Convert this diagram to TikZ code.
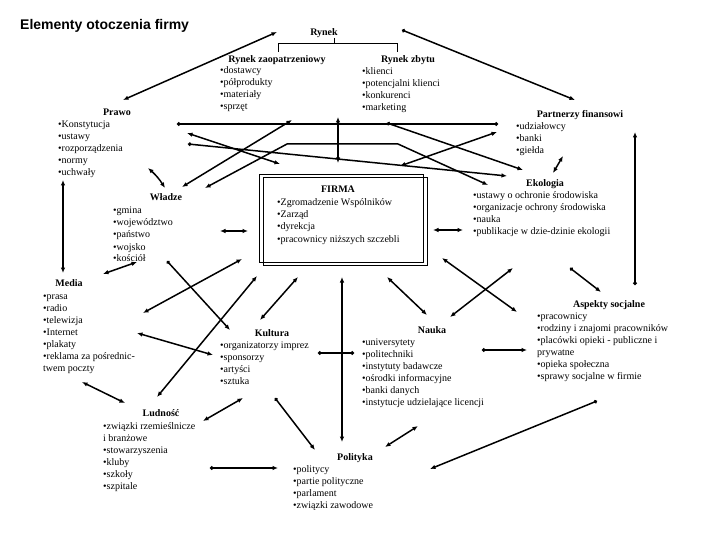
\documentclass[tikz,border=0pt]{standalone}
\usepackage{fontspec}
\setmainfont{Liberation Serif}
\newfontfamily\titlefont{Liberation Sans}
\usetikzlibrary{arrows.meta}
\newcommand{\mylist}[1]{\begin{tabular}[t]{@{}l@{}}#1\end{tabular}}
\tikzset{
  conn/.style={line width=1.5pt},
  aa/.style={conn,{Latex[length=5.5pt,width=4.5pt]}-{Latex[length=5.5pt,width=4.5pt]}},
  da/.style={conn,{Circle[length=3.5pt]}-{Latex[length=5.5pt,width=4.5pt]}},
  dd/.style={conn,{Circle[length=3.5pt]}-{Circle[length=3.5pt]}},
  hd/.style={font=\bfseries\fontsize{10}{12}\selectfont,inner sep=0pt,anchor=base},
  lst/.style={font=\fontsize{10}{12}\selectfont,inner sep=0pt,anchor=base west},
  frame/.style={draw,line width=0.8pt,inner sep=0pt,anchor=north west,minimum width=164pt,minimum height=88pt},
}
\begin{document}
\begin{tikzpicture}[x=1pt,y=-1pt]
\useasboundingbox[fill=white] (0,0) rectangle (720,540);

% title
\node[anchor=base west,inner sep=0pt,font=\titlefont\bfseries\fontsize{14}{16}\selectfont] (title) at (20,30) {Elementy otoczenia firmy};

% Rynek
\node[hd] (rynek) at (324,36) {Rynek};
\coordinate (tk1) at (334,38); \coordinate (tk2) at (334,43);
\coordinate (br1) at (278,52); \coordinate (br2) at (278,43);
\coordinate (br3) at (397,43); \coordinate (br4) at (397,52);
\draw[line width=0.8pt] (tk1) -- (tk2);
\draw[line width=0.8pt] (br1) -- (br2) -- (br3) -- (br4);

\node[hd] (rzH) at (277,63) {Rynek zaopatrzeniowy};
\node[lst] (rzL) at (220,74) {\mylist{•dostawcy\\•półprodukty\\•materiały\\•sprzęt}};

\node[hd] (rbH) at (408,63) {Rynek zbytu};
\node[lst] (rbL) at (362,75) {\mylist{•klienci\\•potencjalni klienci\\•konkurenci\\•marketing}};

\node[hd] (prH) at (117,116) {Prawo};
\node[lst] (prL) at (58,128) {\mylist{•Konstytucja\\•ustawy\\•rozporządzenia\\•normy\\•uchwały}};

\node[hd] (pfH) at (580,118) {Partnerzy finansowi};
\node[lst] (pfL) at (516,130) {\mylist{•udziałowcy\\•banki\\•giełda}};

% FIRMA
\node[frame] (boxA) at (259,174) {};
\node[frame] (boxB) at (263,177) {};
\node[hd] (fiH) at (338,193) {FIRMA};
\node[lst] (fiL) at (277,206) {\mylist{•Zgromadzenie Wspólników\\•Zarząd\\•dyrekcja\\•pracownicy niższych szczebli}};

\node[hd] (wlH) at (166,201) {Władze};
\node[lst] (wlL) at (113,214) {\mylist{•gmina\\•województwo\\•państwo\\•wojsko\\•kościół}};

\node[hd] (ekH) at (545,187) {Ekologia};
\node[lst] (ekL) at (473,199) {\mylist{•ustawy o ochronie środowiska\\•organizacje ochrony środowiska\\•nauka\\•publikacje w dzie-dzinie ekologii}};

\node[hd] (meH) at (69,286) {Media};
\node[lst] (meL) at (43,299) {\mylist{•prasa\\•radio\\•telewizja\\•Internet\\•plakaty\\•reklama za pośrednic-\\twem poczty}};

\node[hd] (kuH) at (272,336) {Kultura};
\node[lst] (kuL) at (220,348) {\mylist{•organizatorzy imprez\\•sponsorzy\\•artyści\\•sztuka}};

\node[hd] (naH) at (432,333) {Nauka};
\node[lst] (naL) at (362,345) {\mylist{•universytety\\•politechniki\\•instytuty badawcze\\•ośrodki informacyjne\\•banki danych\\•instytucje udzielające licencji}};

\node[hd] (asH) at (609,307) {Aspekty socjalne};
\node[lst] (asL) at (537,319) {\mylist{•pracownicy\\•rodziny i znajomi pracowników\\•placówki opieki - publiczne i\\prywatne\\•opieka społeczna\\•sprawy socjalne w firmie}};

\node[hd] (luH) at (161,416) {Ludność};
\node[lst] (luL) at (103,429) {\mylist{•związki rzemieślnicze\\i branżowe\\•stowarzyszenia\\•kluby\\•szkoły\\•szpitale}};

\node[hd] (poH) at (355,460) {Polityka};
\node[lst] (poL) at (293,472) {\mylist{•politycy\\•partie polityczne\\•parlament\\•związki zawodowe}};

% connector end points
\coordinate (a1) at (123,100); \coordinate (b1) at (277,32);
\coordinate (a2) at (402,30);  \coordinate (b2) at (575,100);
\coordinate (a3) at (177,124); \coordinate (b3) at (498,124);
\coordinate (a4) at (187,133); \coordinate (b4) at (280,164);
\coordinate (a5) at (188,144); \coordinate (b5) at (507,176);
\coordinate (a6) at (182,187); \coordinate (b6) at (292,120);
\coordinate (a7) at (205,188); \coordinate (m7a) at (287,144); \coordinate (m7b) at (398,144); \coordinate (b7) at (488,185);
\coordinate (a8) at (338,117); \coordinate (b8) at (338,163);
\coordinate (a9) at (387,123); \coordinate (b9) at (523,170);
\coordinate (a10) at (497,132); \coordinate (b10) at (400,166);
\coordinate (a11) at (563,156); \coordinate (b11) at (553,173);
\coordinate (a12) at (635,285); \coordinate (b12) at (635,132);
\coordinate (a13) at (148,168); \coordinate (b13) at (165,188);
\coordinate (a14) at (63,180);  \coordinate (b14) at (63,273);
\coordinate (a15) at (220,231); \coordinate (b15) at (248,231);
\coordinate (a16) at (137,262); \coordinate (b16) at (103,274);
\coordinate (a17) at (242,259); \coordinate (b17) at (143,313);
\coordinate (a18) at (167,261); \coordinate (b18) at (230,330);
\coordinate (a19) at (257,276); \coordinate (b19) at (157,397);
\coordinate (a20) at (298,277); \coordinate (b20) at (260,320);
\coordinate (a21) at (137,333); \coordinate (b21) at (213,355);
\coordinate (a22) at (342,277); \coordinate (b22) at (342,442);
\coordinate (a23) at (318,353); \coordinate (b23) at (354,353);
\coordinate (a24) at (387,277); \coordinate (b24) at (427,315);
\coordinate (a25) at (442,258); \coordinate (b25) at (517,312);
\coordinate (a26) at (513,268); \coordinate (b26) at (450,317);
\coordinate (a27) at (433,230); \coordinate (b27) at (463,230);
\coordinate (a28) at (570,268); \coordinate (b28) at (601,292);
\coordinate (a29) at (482,350); \coordinate (b29) at (527,350);
\coordinate (a30) at (82,382);  \coordinate (b30) at (125,403);
\coordinate (a31) at (243,398); \coordinate (b31) at (203,421);
\coordinate (a32) at (275,398); \coordinate (b32) at (315,450);
\coordinate (a33) at (210,468); \coordinate (b33) at (278,468);
\coordinate (a34) at (418,426); \coordinate (b34) at (385,447);
\coordinate (a35) at (597,401); \coordinate (b35) at (430,469);

% connectors
\draw[aa] (a1) -- (b1);
\draw[da] (a2) -- (b2);
\draw[dd] (a3) -- (b3);
\draw[aa] (a4) -- (b4);
\draw[da] (a5) -- (b5);
\draw[aa] (a6) -- (b6);
\draw[aa] (a7) -- (m7a) -- (m7b) -- (b7);
\draw[aa] (a8) -- (b8);
\draw[da] (a9) -- (b9);
\draw[aa] (a10) -- (b10);
\draw[aa] (a11) -- (b11);
\draw[da] (a12) -- (b12);
\draw[aa] (a13) to[bend left=8] (b13);
\draw[aa] (a14) -- (b14);
\draw[aa] (a15) -- (b15);
\draw[aa] (a16) -- (b16);
\draw[aa] (a17) -- (b17);
\draw[da] (a18) -- (b18);
\draw[aa] (a19) -- (b19);
\draw[aa] (a20) -- (b20);
\draw[aa] (a21) -- (b21);
\draw[aa] (a22) -- (b22);
\draw[dd] (a23) -- (b23);
\draw[aa] (a24) -- (b24);
\draw[aa] (a25) -- (b25);
\draw[aa] (a26) -- (b26);
\draw[aa] (a27) -- (b27);
\draw[da] (a28) -- (b28);
\draw[da] (a29) -- (b29);
\draw[aa] (a30) -- (b30);
\draw[aa] (a31) -- (b31);
\draw[da] (a32) -- (b32);
\draw[da] (a33) -- (b33);
\draw[aa] (a34) -- (b34);
\draw[da] (a35) -- (b35);
\end{tikzpicture}
\end{document}
